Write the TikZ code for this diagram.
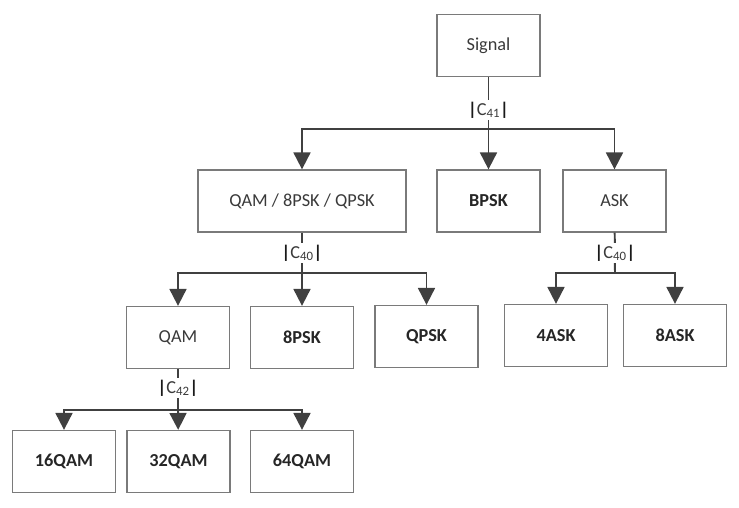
\documentclass[tikz,border=0pt]{standalone}
\usepackage{fontspec}
\setmainfont{Carlito}
\usepackage{xcolor}
\usepackage{tikz}
\usetikzlibrary{positioning,arrows.meta}

\definecolor{linegray}{HTML}{404040}
\definecolor{boxgray}{HTML}{7A7A7A}
\definecolor{textgray}{HTML}{3A3A3A}

\newcommand{\cumbar}{{\color{black!90}\bfseries|}}

\begin{document}
\begin{tikzpicture}[x=0.025cm,y=-0.025cm,-{Triangle[width=12pt,length=12pt]},line width=1.4pt,color=linegray]
  \tikzstyle{class}=[rectangle,draw=boxgray,line width=0.9pt,fill=white,minimum width=2.575cm,minimum height=1.55cm,align=center,font=\fontsize{13}{15}\selectfont,text=textgray]
  \tikzstyle{leaf}=[class,font=\fontsize{13}{15}\selectfont\bfseries,text=black!85]
  \tikzstyle{cum}=[fill=white,inner sep=1pt,font=\fontsize{13}{15}\selectfont,text=textgray]

  \useasboundingbox (0,0) rectangle (739,508);

  % top level
  \node[class] (sig) at (488.5,45.5) {Signal};
  \node[class,minimum width=5.2cm] (mix) at (302,201) {QAM / 8PSK / QPSK};
  \node[leaf] (bpsk) at (488.5,201) {BPSK};
  \node[class] (ask) at (614.5,201) {ASK};

  % second level
  \node[class] (qam) at (178,337.5) {QAM};
  \node[leaf] (psk8) at (302,337.5) {8PSK};
  \node[leaf] (qpsk) at (426.5,336.5) {QPSK};
  \node[leaf] (ask4) at (556,335.5) {4ASK};
  \node[leaf] (ask8) at (675,335.5) {8ASK};

  % third level
  \node[leaf] (qam16) at (64,461.5) {16QAM};
  \node[leaf] (qam32) at (178.5,461.5) {32QAM};
  \node[leaf] (qam64) at (302,461.5) {64QAM};

  % branch points
  \coordinate (b1) at (488.5,129);
  \coordinate (b2) at (302,273);
  \coordinate (b3) at (615,273);
  \coordinate (b4) at (178,410);

  \draw[-] (sig) -- (b1);
  \draw (b1) -| (mix);
  \draw (b1) -- (bpsk);
  \draw (b1) -| (ask);

  \draw[-] (mix) -- (b2);
  \draw (b2) -| (qam);
  \draw (b2) -- (psk8);
  \draw (b2) -| (qpsk);

  \draw[-] (ask) -- (b3);
  \draw (b3) -| (ask4);
  \draw (b3) -| (ask8);

  \draw[-] (qam) -- (b4);
  \draw (b4) -| (qam16);
  \draw (b4) -- (qam32);
  \draw (b4) -| (qam64);

  % cumulant labels
  \node[cum] (c41) at (488.5,110) {\cumbar C\textsubscript{41}\cumbar};
  \node[cum] (c40a) at (302,253) {\cumbar C\textsubscript{40}\cumbar};
  \node[cum] (c40b) at (615,253) {\cumbar C\textsubscript{40}\cumbar};
  \node[cum] (c42) at (178,388) {\cumbar C\textsubscript{42}\cumbar};
\end{tikzpicture}
\end{document}
